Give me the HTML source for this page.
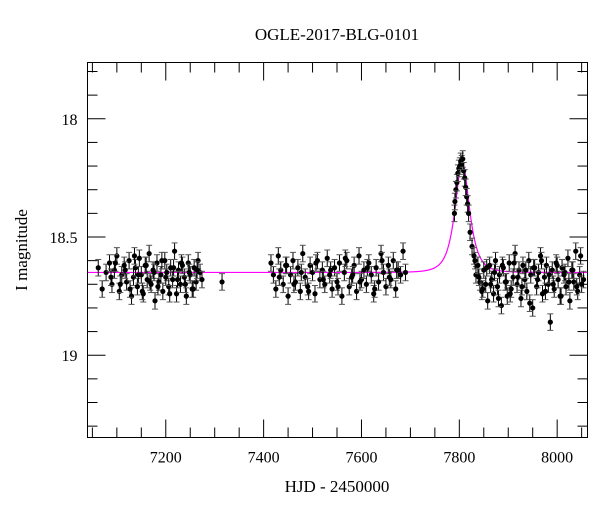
<!DOCTYPE html>
<html><head><meta charset="utf-8"><style>
body{margin:0;background:#fff;}
svg text{font-family:"Liberation Serif",serif;fill:#000;}
</style></head><body>
<svg id="chart" width="600" height="512" viewBox="0 0 600 512" xmlns="http://www.w3.org/2000/svg">
<rect width="600" height="512" fill="#fff"/>
<text x="337" y="40" font-size="17" text-anchor="middle">OGLE-2017-BLG-0101</text>
<text x="337" y="492" font-size="17" text-anchor="middle">HJD - 2450000</text>
<text transform="translate(27,250) rotate(-90)" font-size="17" text-anchor="middle">I magnitude</text>
<g id="ticks"></g><g id="model"></g><g id="points"></g>
<rect x="87.5" y="62.5" width="500" height="375" fill="none" stroke="#000" stroke-width="1"/>
</svg>
<script>
const times1=[7062,7070,7078,7085,7090,7095,7100,7105,7110,7115,7120,7125,7130,7134,7138,7142,7146,7150,7154,7158,7162,7166,7170,7174,7178,7182,7186,7190,7194,7198,7202,7206,7210,7214,7218,7222,7226,7230,7234,7238,7242,7246,7250,7254,7258,7262,7266,7270,7274,7315,7088,7097,7107,7117,7127,7136,7144,7152,7160,7168,7176,7184,7192,7200,7208,7216,7224,7232,7240,7248,7256,7264];
const mags1=[18.63,18.72,18.65,18.61,18.70,18.64,18.58,18.73,18.66,18.62,18.69,18.60,18.75,18.67,18.63,18.71,18.59,18.66,18.74,18.62,18.68,18.57,18.70,18.64,18.77,18.61,18.69,18.66,18.73,18.60,18.65,18.71,18.63,18.68,18.56,18.74,18.64,18.70,18.62,18.67,18.75,18.61,18.66,18.72,18.63,18.69,18.60,18.65,18.68,18.69,18.67,18.61,18.70,18.64,18.72,18.58,18.66,18.73,18.62,18.69,18.65,18.71,18.60,18.67,18.74,18.63,18.68,18.61,18.70,18.65,18.72,18.64];
const times2=[7415,7420,7425,7430,7435,7440,7445,7450,7455,7460,7465,7470,7475,7480,7485,7490,7495,7500,7505,7510,7515,7520,7525,7530,7535,7540,7545,7550,7555,7560,7565,7570,7575,7580,7585,7590,7595,7600,7605,7610,7615,7620,7625,7630,7635,7640,7645,7650,7655,7660,7665,7670,7675,7680,7685,7690,7432,7447,7462,7477,7492,7507,7522,7537,7552,7567,7582,7597,7612,7627,7642,7657,7672];
const mags2=[18.61,18.66,18.72,18.58,18.64,18.70,18.62,18.75,18.66,18.60,18.69,18.63,18.73,18.57,18.67,18.71,18.62,18.65,18.74,18.60,18.68,18.64,18.70,18.59,18.66,18.72,18.63,18.69,18.61,18.75,18.65,18.60,18.71,18.67,18.62,18.73,18.58,18.68,18.64,18.70,18.61,18.66,18.74,18.63,18.69,18.57,18.65,18.71,18.62,18.68,18.60,18.72,18.64,18.66,18.56,18.65,18.67,18.62,18.70,18.65,18.73,18.61,18.68,18.64,18.71,18.59,18.66,18.69,18.63,18.72,18.60,18.67,18.64];
const times3=[7790,7791,7793,7795,7797,7799,7801,7803,7805,7807,7809,7811,7813,7815,7817,7819,7822,7826,7830,7834,7838,7842,7846,7850,7854,7858,7862,7866,7870,7874,7878,7882,7886,7890,7894,7898,7902,7906,7910,7914,7918,7922,7926,7930,7934,7938,7942,7946,7950,7954,7958,7962,7966,7970,7974,7978,7982,7986,7990,7994,7998,8002,8006,8010,8014,8018,8022,8026,8030,8034,8038,8042,8046,8050,8054,7832,7840,7848,7856,7864,7872,7880,7888,7896,7904,7912,7920,7928,7936,7944,7952,7960,7968,7976,7984,7992,8000,8008,8016,8024,8032,8040,8048];
const mags3=[18.40,18.35,18.30,18.27,18.23,18.21,18.20,18.18,18.19,18.17,18.22,18.25,18.29,18.33,18.36,18.40,18.48,18.54,18.58,18.66,18.62,18.69,18.73,18.64,18.70,18.77,18.62,18.68,18.74,18.60,18.71,18.66,18.79,18.63,18.69,18.75,18.61,18.72,18.67,18.57,18.70,18.64,18.76,18.62,18.68,18.73,18.60,18.66,18.80,18.63,18.71,18.65,18.58,18.74,18.67,18.62,18.70,18.86,18.64,18.72,18.61,18.68,18.75,18.63,18.66,18.71,18.59,18.77,18.64,18.69,18.56,18.73,18.66,18.70,18.68,18.60,18.67,18.72,18.63,18.70,18.65,18.76,18.62,18.69,18.74,18.61,18.67,18.71,18.64,18.78,18.63,18.68,18.60,18.73,18.66,18.70,18.62,18.75,18.65,18.69,18.64,18.71,18.58];
const errs=0.035;
const baseMag=[18.65], t0=[7806], u0=[0.8], tE=[20];
const xTicks=[7200,7400,7600,7800,8000];
const yTicks=[18,18.5,19];
const NS="http://www.w3.org/2000/svg";
const X0=7040,X1=8062,Y0=17.762,Y1=19.348,L=87.5,R=587.5,T=62.5,B=437.5;
const sx=t=>L+(t-X0)/(X1-X0)*(R-L);
const sy=m=>T+(m-Y0)/(Y1-Y0)*(B-T);
function mk(tag,attrs,parent){const e=document.createElementNS(NS,tag);for(const k in attrs)e.setAttribute(k,attrs[k]);parent.appendChild(e);return e;}
const tg=document.getElementById('ticks');
for(let t=7050;t<=8050;t+=50){const x=sx(t);const major=t%200===0;const len=major?18:10;
 const a=mk('line',{x1:x,y1:B,x2:x,y2:B-len,stroke:'#000'},tg);
 const b=mk('line',{x1:x,y1:T,x2:x,y2:T+len,stroke:'#000'},tg);}
xTicks.forEach(t=>{const e=mk('text',{x:sx(t),y:B+25,'font-size':16,'text-anchor':'middle'},tg);e.textContent=t;});
for(let i=18;i<=193;i++){const m=i/10;if(m<Y0||m>Y1)continue;const y=sy(m);const major=i%5===0;const len=major?18:10;
 const a=mk('line',{x1:L,y1:y,x2:L+len,y2:y,stroke:'#000'},tg);
 const b=mk('line',{x1:R,y1:y,x2:R-len,y2:y,stroke:'#000'},tg);}
yTicks.forEach(m=>{const e=mk('text',{x:L-10,y:sy(m)+6,'font-size':16,'text-anchor':'end'},tg);e.textContent=m;});
// model
let d='';
for(let t=X0;t<=X1;t+=0.5){const tau=(t-t0[0])/tE[0];const u=Math.sqrt(u0[0]*u0[0]+tau*tau);const A=(u*u+2)/(u*Math.sqrt(u*u+4));const A0=(u0[0]*u0[0]+2)/(u0[0]*Math.sqrt(u0[0]*u0[0]+4));
 const m=baseMag[0]-2.5*Math.log10(A);d+=(d?'L':'M')+sx(t).toFixed(2)+','+sy(m).toFixed(2);}
const mp=mk('path',{d:d,fill:'none',stroke:'#ff00ff','stroke-width':1.2},document.getElementById('model'));

const pg=document.getElementById('points');
function drawSet(ts,ms){ts.forEach((t,i)=>{const x=sx(t),y=sy(ms[i]),y1=sy(ms[i]-errs),y2=sy(ms[i]+errs);
 const g=mk('g',{},pg);
 mk('line',{x1:x,y1:y1,x2:x,y2:y2,stroke:'#000','stroke-width':1},g);
 mk('line',{x1:x-3,y1:y1,x2:x+3,y2:y1,stroke:'#555','stroke-width':1},g);
 mk('line',{x1:x-3,y1:y2,x2:x+3,y2:y2,stroke:'#555','stroke-width':1},g);
 mk('circle',{cx:x,cy:y,r:2.6,fill:'#000'},g);});}
drawSet(times1,mags1);drawSet(times2,mags2);drawSet(times3,mags3);
</script>
</body></html>
